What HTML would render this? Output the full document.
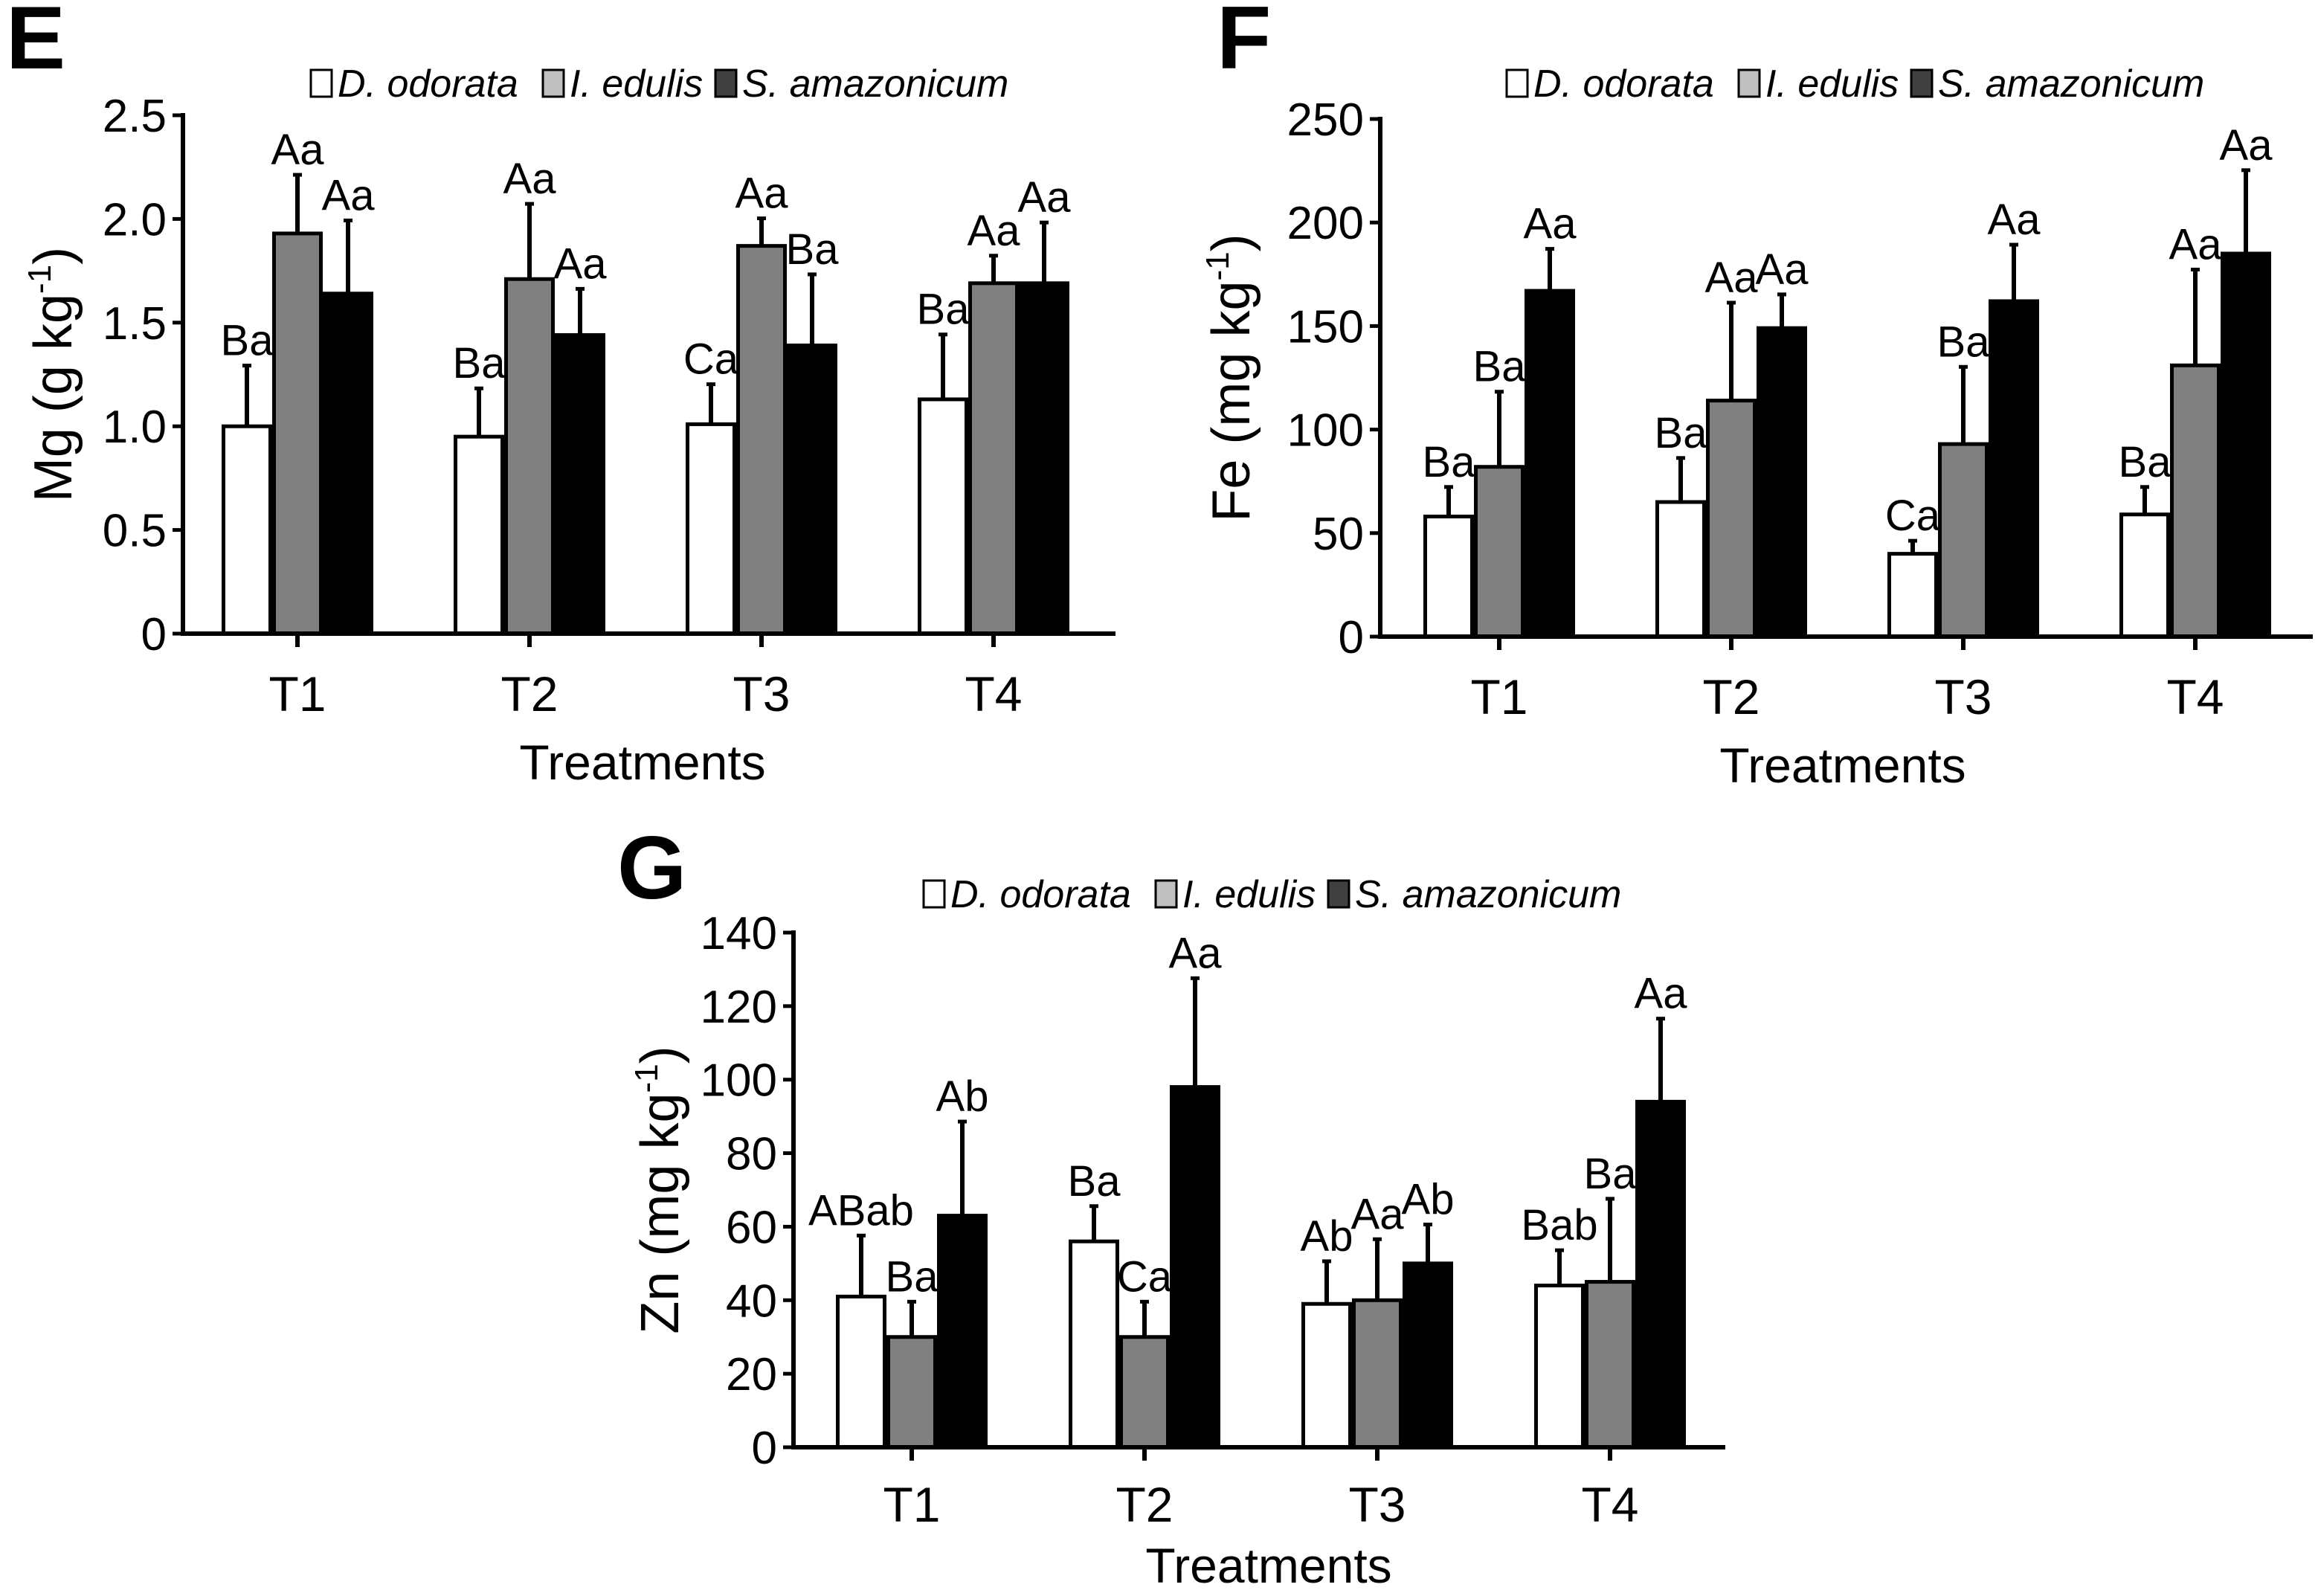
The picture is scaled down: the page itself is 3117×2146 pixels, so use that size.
<!DOCTYPE html>
<html><head><meta charset="utf-8"><style>
html,body{margin:0;padding:0;background:#fff}
svg{display:block;font-family:"Liberation Sans",Arial,sans-serif}
</style></head><body>
<svg id="c" width="3117" height="2146" viewBox="0 0 3117 2146" xmlns="http://www.w3.org/2000/svg"></svg>
<script>
const categories=["T1","T2","T3","T4"];
const seriesNames=["D. odorata","I. edulis","S. amazonicum"];
const mgD=[1.0,0.95,1.01,1.13], mgDe=[1.30,1.19,1.21,1.45];
const mgI=[1.93,1.71,1.87,1.69], mgIe=[2.22,2.08,2.01,1.83];
const mgS=[1.64,1.44,1.39,1.69], mgSe=[2.00,1.67,1.74,1.99];
const mgL=[["Ba","Aa","Aa"],["Ba","Aa","Aa"],["Ca","Aa","Ba"],["Ba","Aa","Aa"]];
const feD=[58,65,40,59], feDe=[73,87,47,73];
const feI=[82,114,93,131], feIe=[119,162,131,178];
const feS=[167,149,162,185], feSe=[188,166,190,226];
const feL=[["Ba","Ba","Aa"],["Ba","Aa","Aa"],["Ca","Ba","Aa"],["Ba","Aa","Aa"]];
const znD=[41,56,39,44], znDe=[58,66,51,54];
const znI=[30,30,40,45], znIe=[40,40,57,68];
const znS=[63,98,50,94], znSe=[89,128,61,117];
const znL=[["ABab","Ba","Ab"],["Ba","Ca","Aa"],["Ab","Aa","Ab"],["Bab","Ba","Aa"]];
const mgTicks=["0","0.5","1.0","1.5","2.0","2.5"], mgTickV=[0,0.5,1,1.5,2,2.5];
const feTicks=["0","50","100","150","200","250"], feTickV=[0,50,100,150,200,250];
const znTicks=["0","20","40","60","80","100","120","140"], znTickV=[0,20,40,60,80,100,120,140];

const svg=document.getElementById('c');
const NS='http://www.w3.org/2000/svg';
function mk(tag,attrs,parent,text){const e=document.createElementNS(NS,tag);for(const k in attrs)e.setAttribute(k,attrs[k]);if(text!==undefined)e.textContent=text;(parent||svg).appendChild(e);return e;}
const fills=["#ffffff","#808080","#000000"];
const legFills=["#ffffff","#c0c0c0","#404040"];
const legOff=[0,312,544];

function panel(o){
  const g=mk('g',{});
  
  
  const ymax=o.tickV[o.tickV.length-1];
  const y=v=>o.y0-(v/ymax)*(o.y0-o.yTop);
  const xc=i=>o.x1+o.step*i;
  const L=mk('text',{x:o.lx,y:o.ly,'font-size':120,'font-weight':'bold'},g,o.id);
  
  const lg=mk('g',{},g);
  
  seriesNames.forEach((n,k)=>{
    const lx=o.legX+legOff[k];
    const it=mk('g',{},lg);
    
    mk('rect',{x:lx,y:o.legY-36,width:28,height:36,fill:legFills[k],stroke:'#000','stroke-width':3},it);
    mk('text',{x:lx+36,y:o.legY,'font-size':52,'font-style':'italic'},it,n);
  });
  const sets=[[o.D,o.De],[o.I,o.Ie],[o.S,o.Se]];
  categories.forEach((c,i)=>{
    sets.forEach((s,k)=>{
      const bx=xc(i)-102+68*k;
      const top=y(s[0][i]), et=y(s[1][i]);
      const cx=bx+34;
      const e=mk('line',{x1:cx,x2:cx,y1:top,y2:et,stroke:'#000','stroke-width':6},g);
      
      mk('line',{x1:cx-6,x2:cx+6,y1:et+2,y2:et+2,stroke:'#000','stroke-width':5},g);
      const r=mk('rect',{x:bx+2.5,y:top,width:63,height:o.y0-top,fill:fills[k],stroke:'#000','stroke-width':5},g);
      
      const t=mk('text',{x:cx,y:et-12,'font-size':58,'text-anchor':'middle'},g,o.lab[i][k]);
      
    });
    mk('line',{x1:xc(i),x2:xc(i),y1:o.y0,y2:o.y0+18,stroke:'#000','stroke-width':6},g);
    const tl=mk('text',{x:xc(i),y:o.y0+o.tOff,'font-size':66,'text-anchor':'middle'},g,c);
    
  });
  const ya=mk('line',{x1:o.ax,x2:o.ax,y1:o.yTop-3,y2:o.y0+3,stroke:'#000','stroke-width':6},g);
  
  const xa=mk('line',{x1:o.ax-3,x2:o.axEnd,y1:o.y0,y2:o.y0,stroke:'#000','stroke-width':6},g);
  
  o.tickV.forEach((v,j)=>{
    mk('line',{x1:o.ax-14,x2:o.ax,y1:y(v),y2:y(v),stroke:'#000','stroke-width':5},g);
    const t=mk('text',{x:o.ax-22,y:y(v)+22,'font-size':62,'text-anchor':'end'},g,o.ticks[j]);
    
  });
  const xt=mk('text',{x:o.xtX,y:o.y0+o.xOff,'font-size':66,'text-anchor':'middle'},g,'Treatments');
  
  const yt=mk('text',{x:0,y:0,'font-size':72,'text-anchor':'middle',transform:`translate(${o.ytX},${(o.y0+o.yTop)/2}) rotate(-90)`},g);
  
  mk('tspan',{},yt,o.yt+' (');
  mk('tspan',{},yt,o.unit+' kg');
  mk('tspan',{'font-size':44,dy:-28},yt,'-1');
  mk('tspan',{dy:28},yt,')');
}
panel({id:'E',lx:8,ly:92,legX:418,legY:130,ax:246,axEnd:1500,y0:852,yTop:155,x1:400,step:312,tOff:104,xOff:196,
  tickV:mgTickV,ticks:mgTicks,D:mgD,De:mgDe,I:mgI,Ie:mgIe,S:mgS,Se:mgSe,lab:mgL,xtX:864,ytX:96,yt:'Mg',unit:'g'});
panel({id:'F',lx:1636,ly:92,legX:2026,legY:130,ax:1856,axEnd:3110,y0:856,yTop:160,x1:2016,step:312,tOff:104,xOff:196,
  tickV:feTickV,ticks:feTicks,D:feD,De:feDe,I:feI,Ie:feIe,S:feS,Se:feSe,lab:feL,xtX:2478,ytX:1680,yt:'Fe',unit:'mg'});
panel({id:'G',lx:830,ly:1208,legX:1242,legY:1220,ax:1067,axEnd:2320,y0:1946,yTop:1254,x1:1226,step:313,tOff:100,xOff:182,
  tickV:znTickV,ticks:znTicks,D:znD,De:znDe,I:znI,Ie:znIe,S:znS,Se:znSe,lab:znL,xtX:1706,ytX:912,yt:'Zn',unit:'mg'});
</script>
</body></html>
